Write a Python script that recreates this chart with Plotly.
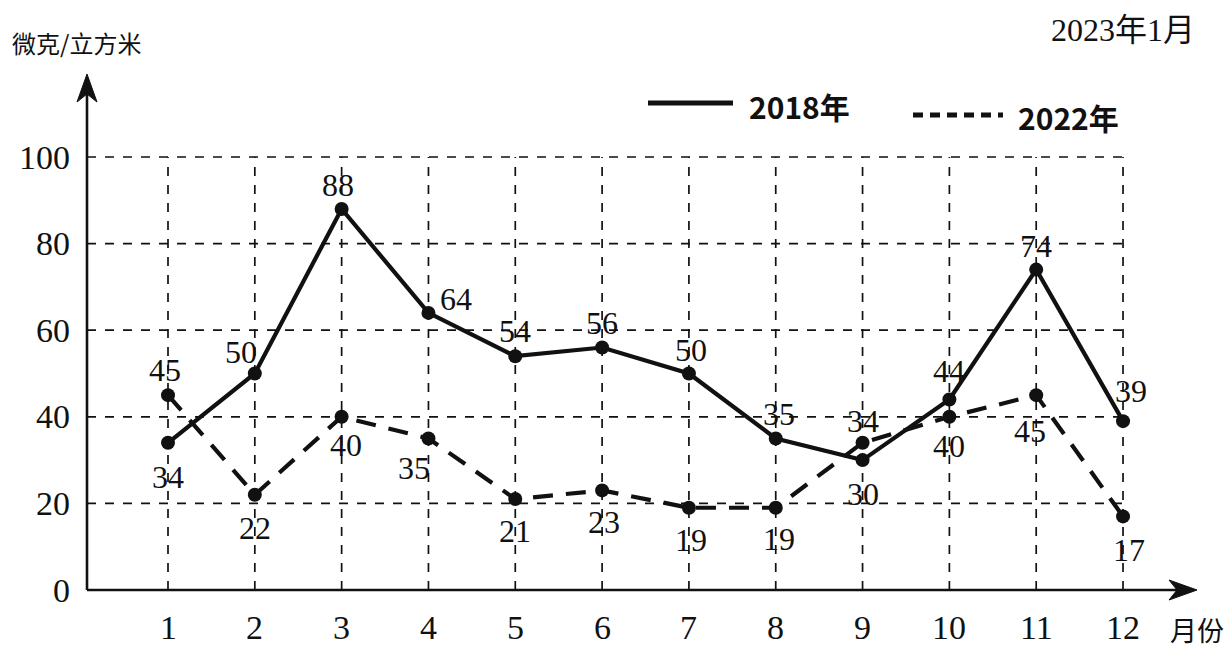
import plotly.graph_objects as go

months = list(range(1, 13))
month_labels = [str(m) for m in months]
pm2018 = [34, 50, 88, 64, 54, 56, 50, 35, 30, 44, 74, 39]
pm2022 = [45, 22, 40, 35, 21, 23, 19, 19, 34, 40, 45, 17]
y_ticks = [0, 20, 40, 60, 80, 100]
series_names = ["2018年", "2022年"]

# label offsets (pixels) relative to each point
off2018 = [(0, -34), (-14, 22), (-4, 24), (28, 14), (0, 25), (0, 25), (2, 24), (3, 24), (0, -34), (0, 28), (0, 24), (8, 30)]
off2022 = [(-3, 25), (0, -33), (4, -28), (-14, -30), (0, -32), (2, -32), (2, -32), (3, -31), (0, 22), (0, -29), (-6, -36), (6, -34)]

L, R, T, B = 40, 10, 40, 40
W, H = 1230 - L - R, 648 - T - B
PXX = 86.82          # pixels per month
PXY = 4.33           # pixels per unit
X1PX, Y0PX = 168, 590
x_lo = 1 - (X1PX - L) / PXX
x_hi = x_lo + W / PXX
y_lo = -(648 - B - Y0PX) / PXY
y_hi = y_lo + H / PXY

AXL = 1 - (X1PX - 87) / PXX      # y-axis position (x data)
AXR = 12 + (1197 - 1123) / PXX   # x-axis arrow tip
AYT = (Y0PX - 74) / PXY          # y-axis arrow tip
INK = "#111111"
SERIF = "Liberation Serif, Noto Sans CJK SC"

fig = go.Figure()

shapes = []
for v in y_ticks[1:]:
    shapes.append(dict(type="line", x0=AXL, x1=months[-1], y0=v, y1=v, xref="x", yref="y",
                       line=dict(color=INK, width=1.7, dash="dash"), layer="below"))
for m in months:
    shapes.append(dict(type="line", x0=m, x1=m, y0=0, y1=y_ticks[-1], xref="x", yref="y",
                       line=dict(color=INK, width=1.7, dash="dash"), layer="below"))
shapes.append(dict(type="line", x0=AXL, x1=AXR - 4 / PXX, y0=0, y1=0, xref="x", yref="y",
                   line=dict(color=INK, width=2.6)))
shapes.append(dict(type="line", x0=AXL, x1=AXL, y0=0, y1=AYT - 4 / PXY, xref="x", yref="y",
                   line=dict(color=INK, width=2.6)))

def apath(pts):
    return "M " + " L ".join(f"{x:.4f},{y:.4f}" for x, y in pts) + " Z"

xa = [(AXR, 0), (AXR - 28 / PXX, 10 / PXY), (AXR - 20 / PXX, 0), (AXR - 28 / PXX, -10 / PXY)]
shapes.append(dict(type="path", xref="x", yref="y", path=apath(xa),
                   fillcolor=INK, line=dict(color=INK, width=1)))
ya = [(AXL, AYT), (AXL - 10 / PXX, AYT - 28 / PXY), (AXL, AYT - 20 / PXY), (AXL + 10 / PXX, AYT - 28 / PXY)]
shapes.append(dict(type="path", xref="x", yref="y", path=apath(ya),
                   fillcolor=INK, line=dict(color=INK, width=1)))

fig.add_trace(go.Scatter(x=months, y=pm2018, mode="lines+markers", name=series_names[0],
                         line=dict(color=INK, width=4.2), marker=dict(size=14, color=INK),
                         showlegend=False))
fig.add_trace(go.Scatter(x=months, y=pm2022, mode="lines+markers", name=series_names[1],
                         line=dict(color=INK, width=4.2, dash="20px,13px"), marker=dict(size=14, color=INK),
                         showlegend=False))

ann = []
for m, v, (dx, dy) in zip(months, pm2018, off2018):
    ann.append(dict(x=m, y=v, text=str(v), showarrow=False, xshift=dx, yshift=dy,
                    font=dict(family=SERIF, size=32, color=INK)))
for m, v, (dx, dy) in zip(months, pm2022, off2022):
    ann.append(dict(x=m, y=v, text=str(v), showarrow=False, xshift=dx, yshift=dy,
                    font=dict(family=SERIF, size=32, color=INK)))

for t in y_ticks:
    ann.append(dict(x=AXL, y=t, xref="x", yref="y", text=str(t), showarrow=False,
                    xanchor="right", xshift=-15, font=dict(family=SERIF, size=34, color=INK)))
for m, lab in zip(months, month_labels):
    ann.append(dict(x=m, y=0, xref="x", yref="y", text=lab, showarrow=False,
                    yanchor="top", yshift=-17, font=dict(family=SERIF, size=34, color=INK)))

def pxp(xp, yp):
    return (xp - L) / W, 1 - (yp - T) / H

paper_ann = [
    ("微克/立方米", 10, 42, "left", 24, "Noto Sans CJK SC", "normal"),
    ("2023年1月", 1197, 30, "right", 32, SERIF, "normal"),
    ("2018年", 747, 106, "left", 30, "Noto Sans CJK SC", "bold"),
    ("2022年", 1016, 117, "left", 30, "Noto Sans CJK SC", "bold"),
    ("月份", 1226, 629, "right", 27, "Noto Sans CJK SC", "normal"),
]
for text, xp, yp, anchor, size, fam, weight in paper_ann:
    xx, yy = pxp(xp, yp)
    ann.append(dict(x=xx, y=yy, xref="paper", yref="paper", text=text,
                    showarrow=False, xanchor=anchor, yanchor="middle",
                    font=dict(family=fam, size=size, color=INK, weight=weight)))

a0, b0 = pxp(648, 103); a1, _ = pxp(733, 103)
shapes.append(dict(type="line", xref="paper", yref="paper", x0=a0, x1=a1, y0=b0, y1=b0,
                   line=dict(color=INK, width=5)))
a0, b0 = pxp(913, 115); a1, _ = pxp(1003, 115)
shapes.append(dict(type="line", xref="paper", yref="paper", x0=a0, x1=a1, y0=b0, y1=b0,
                   line=dict(color=INK, width=5, dash="10px,7px")))

fig.update_layout(
    width=1230, height=648,
    margin=dict(l=L, r=R, t=T, b=B),
    paper_bgcolor="white", plot_bgcolor="white",
    xaxis=dict(range=[x_lo, x_hi], visible=False, fixedrange=True),
    yaxis=dict(range=[y_lo, y_hi], visible=False, fixedrange=True),
    shapes=shapes, annotations=ann, showlegend=False,
)
fig.write_html("out.html")
